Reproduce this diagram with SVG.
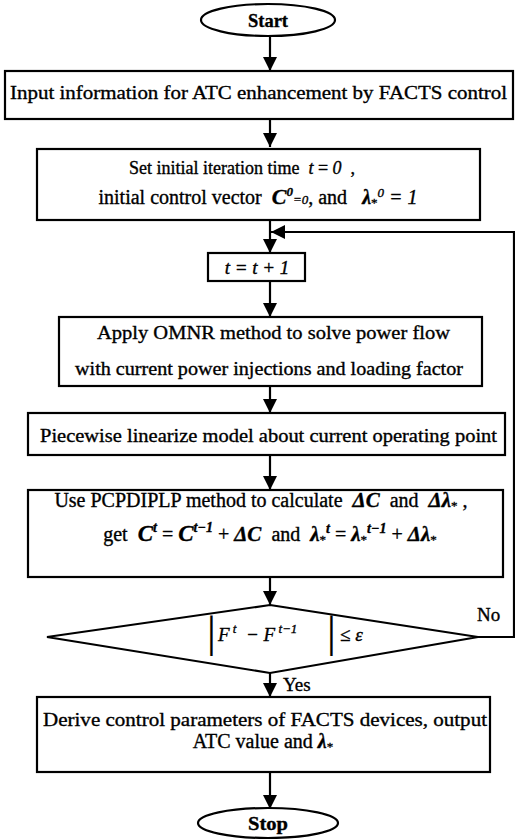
<svg xmlns="http://www.w3.org/2000/svg" width="515" height="839" viewBox="0 0 515 839">
<defs>
<style>
.b{fill:#fff;stroke:#000;stroke-width:2.2}
.c{fill:none;stroke:#000;stroke-width:2.2}
text{font-family:"Liberation Serif","Times New Roman",serif;font-size:19px;fill:#000;stroke:#000;stroke-width:0.35}
.m{font-style:italic;font-weight:bold}
.mi{font-style:italic}
.s{font-size:13px}
.bar{font-size:44px;stroke-width:0.2}
</style>
<marker id="ah" markerUnits="userSpaceOnUse" markerWidth="14" markerHeight="14" viewBox="0 0 14 14" refX="14" refY="7" orient="auto">
<path d="M0,0 L14,7 L0,14 Z" fill="#000"/>
</marker>
</defs>
<rect width="515" height="839" fill="#fff"/>
<g id="connectors">
<line class="c" x1="270" y1="36" x2="270" y2="71" marker-end="url(#ah)"/>
<line class="c" x1="270" y1="119" x2="270" y2="147" marker-end="url(#ah)"/>
<line class="c" x1="270" y1="220" x2="270" y2="253" marker-end="url(#ah)"/>
<line class="c" x1="270" y1="281" x2="270" y2="317" marker-end="url(#ah)"/>
<line class="c" x1="270" y1="386" x2="270" y2="413" marker-end="url(#ah)"/>
<line class="c" x1="270" y1="455" x2="270" y2="490" marker-end="url(#ah)"/>
<line class="c" x1="270" y1="577" x2="270" y2="605" marker-end="url(#ah)"/>
<line class="c" x1="270" y1="673" x2="270" y2="697" marker-end="url(#ah)"/>
<line class="c" x1="270" y1="772" x2="270" y2="809" marker-end="url(#ah)"/>
<polyline class="c" points="478,637 514,637 514,232 271,232" marker-end="url(#ah)"/>
<text x="477" y="621">No</text>
<text x="283" y="691">Yes</text>
</g>
<g id="start">
<ellipse class="b" cx="268" cy="20" rx="67" ry="16"/>
<text x="248" y="27" font-weight="bold" textLength="40" lengthAdjust="spacingAndGlyphs">Start</text>
</g>
<g id="input">
<rect class="b" x="5" y="71" width="508" height="48"/>
<text x="10" y="99" textLength="497" lengthAdjust="spacingAndGlyphs">Input information for ATC enhancement by FACTS control</text>
</g>
<g id="init">
<rect class="b" x="37" y="149" width="443" height="71"/>
<text x="242" y="174" text-anchor="middle" style="font-size:18px">Set initial iteration time&#160;&#160;<tspan class="mi">t</tspan> = <tspan class="mi">0</tspan>&#160;&#160;,</text>
<text x="258" y="204" text-anchor="middle" style="font-size:20px">initial control vector&#160;&#160;<tspan class="m" style="font-size:22px">C</tspan><tspan class="m s" dy="-8">0</tspan><tspan class="mi s" dy="8">=0</tspan>, and&#160;&#160;&#160;<tspan class="m">λ</tspan><tspan class="s" dy="3">*</tspan><tspan class="mi s" dy="-10">0</tspan><tspan class="mi" dy="7">&#160;=&#160;</tspan><tspan class="mi">1</tspan></text>
</g>
<g id="inc">
<rect class="b" x="208" y="253" width="97" height="28"/>
<text x="257" y="274" class="mi" text-anchor="middle">t = t + 1</text>
</g>
<g id="omnr">
<rect class="b" x="59" y="317" width="423" height="69"/>
<text x="97" y="339" textLength="353" lengthAdjust="spacingAndGlyphs">Apply OMNR method to solve power flow</text>
<text x="75" y="375" textLength="388" lengthAdjust="spacingAndGlyphs">with current power injections and loading factor</text>
</g>
<g id="linearize">
<rect class="b" x="28" y="413" width="477" height="42"/>
<text x="40" y="442" textLength="457" lengthAdjust="spacingAndGlyphs">Piecewise linearize model about current operating point</text>
</g>
<g id="pcpdiplp">
<rect class="b" x="28" y="490" width="475" height="87"/>
<text x="261" y="507" text-anchor="middle" style="font-size:20px">Use PCPDIPLP method to calculate&#160;&#160;<tspan class="m" style="font-size:21px">ΔC</tspan>&#160;&#160;and&#160;&#160;<tspan class="m" style="font-size:21px">Δλ</tspan><tspan class="s" dy="3">*</tspan><tspan dy="-3">&#160;,</tspan></text>
<text x="270" y="541" text-anchor="middle" style="font-size:20px">get&#160;&#160;<tspan class="m" style="font-size:23px">C</tspan><tspan class="m s" dy="-9" style="font-size:14px">t</tspan><tspan dy="9">&#160;=&#160;</tspan><tspan class="m" style="font-size:23px">C</tspan><tspan class="m s" dy="-9" style="font-size:14px">t−1</tspan><tspan dy="9">&#160;+&#160;</tspan><tspan class="m" style="font-size:21px">ΔC</tspan>&#160;&#160;and&#160;&#160;<tspan class="m" style="font-size:21px">λ</tspan><tspan class="s" dy="3">*</tspan><tspan class="m s" dy="-11" style="font-size:14px">t</tspan><tspan dy="8">&#160;=&#160;</tspan><tspan class="m" style="font-size:21px">λ</tspan><tspan class="s" dy="3">*</tspan><tspan class="m s" dy="-11" style="font-size:14px">t−1</tspan><tspan dy="8">&#160;+&#160;</tspan><tspan class="m" style="font-size:21px">Δλ</tspan><tspan class="s" dy="3">*</tspan></text>
</g>
<g id="decision">
<polygon class="b" points="270,605 478,637 270,673 47,637"/>
<text x="207" y="647" class="bar">|</text>
<text x="218" y="641" class="mi">F<tspan class="s" dy="-8">&#160;t</tspan><tspan dy="8">&#160;&#160;−&#160;F</tspan><tspan class="s" dy="-8">&#160;t−1</tspan></text>
<text x="327" y="647" class="bar">|</text>
<text x="340" y="641">≤ <tspan class="mi">ε</tspan></text>
</g>
<g id="derive">
<rect class="b" x="37" y="697" width="453" height="75"/>
<text x="43" y="726" textLength="444" lengthAdjust="spacingAndGlyphs">Derive control parameters of FACTS devices, output</text>
<text x="263" y="748" text-anchor="middle" style="font-size:20px">ATC value and <tspan class="m">λ</tspan><tspan class="s" dy="3">*</tspan></text>
</g>
<g id="stop">
<ellipse class="b" cx="268" cy="823" rx="70" ry="15"/>
<text x="248" y="830" font-weight="bold" textLength="40" lengthAdjust="spacingAndGlyphs">Stop</text>
</g>
</svg>
